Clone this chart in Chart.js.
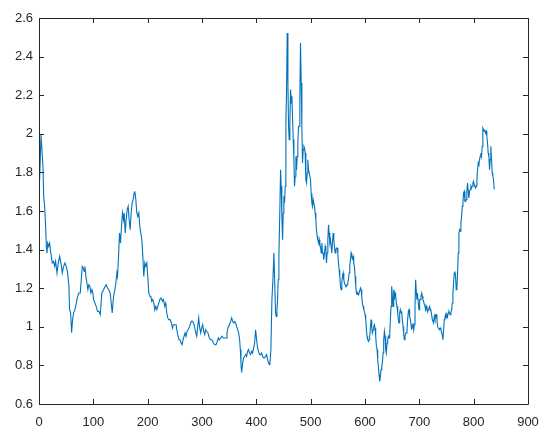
<!DOCTYPE html>
<html>
<head>
<meta charset="utf-8">
<script src="https://cdn.jsdelivr.net/npm/chart.js@4/dist/chart.umd.min.js"></script>
<style>
html,body{margin:0;padding:0;background:#fff;}
canvas{display:block;}
</style>
</head>
<body>
<canvas id="c" width="550" height="444"></canvas>
<script>
const xTicks = [0,100,200,300,400,500,600,700,800,900];
const yTicks = [0.6,0.8,1,1.2,1.4,1.6,1.8,2,2.2,2.4,2.6];

const xs = [
1.2,3.7,7.3,8.6,10.4,12.2,13.5,14.7,15.9,17.8,19.6,20.8,22.7,24.5,26.9,28.8,30.6,33.1,35.5,38.0,
40.4,42.9,45.3,47.8,50.2,52.7,55.1,56.3,58.2,60.0,61.8,63.7,66.1,68.6,71.0,73.5,75.9,77.8,79.6,81.4,
83.3,84.5,86.3,88.2,90.0,91.8,93.7,95.5,97.4,99.2,100.4,102.9,105.3,107.8,110.2,112.7,115.7,118.8,121.9,123.7,
126.1,128.6,131.0,132.9,134.7,137.2,139.6,141.5,143.3,144.5,146.4,148.2,150.0,151.9,153.7,155.5,156.8,158.6,160.4,162.3,
164.1,165.9,167.8,169.6,171.5,173.3,175.1,176.4,178.2,180.0,181.9,183.7,185.5,187.4,189.2,191.1,192.9,194.7,196.6,198.4,
200.2,202.1,203.9,205.8,207.6,209.4,211.3,213.1,214.9,216.8,218.6,220.5,222.3,224.7,227.2,229.0,231.5,233.3,235.1,237.0,
238.8,241.3,243.7,245.6,247.4,249.8,252.3,254.1,256.0,257.8,259.6,261.5,263.3,265.2,267.0,268.8,270.7,272.5,274.3,276.2,
278.0,280.5,282.9,285.4,287.8,290.3,292.1,293.9,295.8,297.6,299.4,301.3,303.1,305.0,306.8,308.6,311.1,313.5,316.0,318.4,
320.9,323.3,325.8,328.2,330.1,331.9,334.4,336.8,339.3,341.7,344.2,346.0,347.8,350.3,352.7,354.6,356.4,358.2,360.1,361.9,
363.7,365.6,367.4,369.3,370.5,371.7,372.9,374.8,376.6,378.4,380.3,382.1,384.0,385.8,387.6,389.5,391.3,393.1,395.0,396.8,
398.7,400.5,402.3,404.2,406.0,407.8,409.7,411.5,413.3,415.2,417.0,418.9,420.7,422.5,424.4,
425.0,426.8,428.7,430.5,432.3,434.2,435.4,436.6,437.9,439.1,440.3,441.5,443.4,444.6,445.8,447.0,448.3,449.5,450.7,451.9,
453.2,454.4,455.6,456.8,458.1,459.3,460.5,461.7,463.0,464.2,465.4,466.6,467.9,469.1,470.3,471.5,472.8,474.0,475.2,476.4,
477.7,478.9,480.1,481.3,482.6,483.8,485.0,486.2,487.5,488.7,489.9,491.1,492.4,493.6,494.8,496.0,497.3,498.5,499.7,500.9,
502.2,503.4,504.6,505.8,507.1,508.3,509.5,510.7,512.0,513.2,514.4,515.6,516.9,518.1,519.3,520.5,521.8,523.0,524.2,525.4,
526.7,527.9,529.1,530.3,531.6,532.8,534.0,535.2,536.5,537.7,538.9,540.1,541.4,542.6,543.8,545.0,546.3,547.5,548.7,549.9,
551.2,552.4,553.6,554.8,556.1,557.3,558.5,559.7,561.0,562.2,563.4,564.6,565.9,567.1,568.3,569.5,570.8,572.0,573.2,574.4,
575.7,576.9,578.1,579.3,580.5,581.8,583.0,584.2,585.4,586.7,587.9,589.1,590.3,591.6,592.8,594.0,595.2,596.5,597.7,598.9,
600.1,601.4,602.6,603.8,605.0,606.3,607.5,608.7,609.9,611.2,612.4,613.6,614.8,616.1,617.3,618.5,619.7,621.0,622.2,623.4,
624.6,625.9,627.1,628.3,629.5,630.8,632.0,633.2,634.4,635.7,636.9,638.1,639.3,640.6,641.8,643.0,644.2,645.5,646.7,647.9,
649.1,650.4,651.6,652.8,654.0,655.3,656.5,657.7,658.9,660.2,661.4,662.6,663.8,665.1,666.3,667.5,668.7,670.0,671.2,672.4,
673.6,674.9,676.1,677.3,678.5,679.8,681.0,682.2,683.4,684.7,685.9,687.1,688.3,689.6,690.8,692.0,693.2,694.5,695.7,696.9,
698.1,699.4,700.6,701.8,703.0,704.3,705.5,706.7,707.9,709.2,710.4,711.6,712.8,714.1,715.3,716.5,717.7,719.0,720.2,721.4,
722.6,723.9,725.1,726.3,727.5,728.8,730.0,731.2,732.4,733.6,734.9,736.1,737.3,738.5,739.8,741.0,742.2,743.4,744.7,745.9,
747.1,748.3,749.6,750.8,752.0,753.2,754.5,755.7,756.9,758.1,759.4,760.6,761.8,763.0,764.3,765.5,766.7,767.9,769.2,770.4,
771.6,772.8,774.1,775.3,776.5,777.7,779.0,780.2,781.4,782.6,783.9,785.1,786.3,787.5,788.8,790.0,791.2,792.4,793.7,794.9,
796.1,797.3,798.6,799.8,801.0,802.2,803.5,804.7,805.9,807.1,808.4,809.6,810.8,812.0,813.3,814.5,815.7,816.9,818.2,819.4,
820.6,821.8,823.1,824.3,825.5,826.7,828.0,829.2,830.4,831.6,832.9,834.1,835.3,836.5,837.8
];

const ys = [
1.762,1.995,1.831,1.676,1.624,1.521,1.417,1.382,1.434,1.417,1.434,1.400,1.365,1.331,1.339,1.313,1.339,1.279,1.331,1.365,
1.331,1.279,1.313,1.331,1.313,1.279,1.210,1.089,1.072,0.970,1.037,1.072,1.089,1.123,1.158,1.175,1.175,1.244,1.313,1.305,
1.287,1.313,1.261,1.227,1.192,1.218,1.210,1.175,1.192,1.175,1.141,1.123,1.106,1.080,1.080,1.063,1.175,1.192,1.210,1.218,
1.201,1.192,1.175,1.123,1.072,1.158,1.192,1.227,1.279,1.261,1.365,1.486,1.434,1.521,1.590,1.555,1.590,1.486,1.555,1.607,
1.624,1.555,1.503,1.590,1.641,1.659,1.693,1.702,1.659,1.590,1.572,1.590,1.521,1.486,1.451,1.365,1.261,1.331,1.313,1.331,
1.261,1.175,1.158,1.158,1.132,1.141,1.123,1.089,1.106,1.089,1.106,1.123,1.141,1.149,1.132,1.141,1.106,1.123,1.072,1.046,
1.037,1.037,1.020,0.994,1.011,1.011,1.011,0.977,0.951,0.933,0.933,0.916,0.907,0.933,0.951,0.968,0.951,0.977,0.985,0.994,
1.011,1.028,1.028,1.011,0.977,0.951,1.002,1.046,0.994,0.968,0.994,1.011,0.977,0.959,0.985,0.977,0.968,0.942,0.933,0.933,
0.916,0.907,0.907,0.925,0.942,0.933,0.942,0.951,0.942,0.942,0.942,0.968,0.994,1.011,1.028,1.046,1.028,1.020,1.028,1.020,
1.002,0.985,0.968,0.933,0.882,0.812,0.764,0.812,0.838,0.847,0.856,0.847,0.873,0.882,0.864,0.856,0.873,0.864,0.890,0.916,
0.985,0.933,0.890,0.873,0.856,0.856,0.864,0.847,0.838,0.838,0.847,0.856,0.830,0.812,0.804,
0.812,0.882,1.141,1.244,1.382,1.192,1.072,1.054,1.089,1.141,1.244,1.365,1.624,1.814,1.728,1.572,1.451,1.590,1.676,1.641,
1.728,2.073,2.211,2.522,2.263,2.039,1.970,2.056,2.229,2.160,2.194,2.090,1.970,1.866,1.728,1.780,1.883,1.814,1.883,1.952,
2.039,2.039,2.194,2.470,2.263,2.039,1.849,1.918,1.935,1.926,1.901,1.762,1.745,1.797,1.866,1.814,1.797,1.797,1.762,1.693,
1.641,1.624,1.659,1.659,1.624,1.590,1.555,1.503,1.469,1.451,1.434,1.451,1.417,1.417,1.382,1.434,1.382,1.382,1.348,1.382,
1.417,1.400,1.331,1.382,1.451,1.529,1.486,1.434,1.451,1.417,1.382,1.434,1.486,1.451,1.417,1.382,1.400,1.408,1.408,1.382,
1.331,1.296,1.261,1.210,1.192,1.227,1.261,1.279,1.244,1.227,1.218,1.210,1.210,1.218,1.227,1.244,1.279,1.313,1.348,1.382,
1.365,1.356,1.365,1.331,1.313,1.261,1.210,1.175,1.167,1.175,1.167,1.175,1.175,1.201,1.192,1.158,1.123,1.106,1.089,1.080,
1.063,1.037,0.985,0.951,0.933,0.925,0.933,0.951,0.994,1.037,0.994,0.968,0.985,1.002,1.011,0.994,0.951,0.899,0.882,0.830,
0.795,0.752,0.717,0.743,0.778,0.795,0.812,0.864,0.933,0.977,0.951,0.882,0.864,0.916,0.933,0.951,0.942,0.959,1.037,1.106,
1.210,1.158,1.106,1.192,1.141,1.175,1.158,1.123,1.106,1.072,1.037,1.020,1.072,1.089,1.072,1.080,1.037,1.002,0.968,0.933,
0.951,0.968,0.968,0.985,1.037,1.080,1.089,1.054,1.037,1.011,0.985,1.002,1.020,0.985,1.011,1.097,1.244,1.175,1.141,1.158,
1.123,1.089,1.141,1.141,1.158,1.175,1.158,1.141,1.132,1.115,1.106,1.089,1.106,1.089,1.080,1.089,1.097,1.106,1.089,1.080,
1.063,1.037,1.028,1.020,1.054,1.037,1.063,1.063,1.037,1.002,0.994,0.994,0.985,0.994,0.985,0.968,0.959,0.933,0.985,1.037,
1.046,1.063,1.046,1.063,1.054,1.072,1.080,1.072,1.063,1.072,1.089,1.123,1.175,1.227,1.279,1.287,1.261,1.192,1.210,1.279,
1.382,1.486,1.503,1.495,1.538,1.572,1.624,1.641,1.693,1.702,1.650,1.650,1.659,1.702,1.745,1.702,1.667,1.702,1.711,1.728,
1.719,1.728,1.745,1.754,1.736,1.728,1.719,1.728,1.754,1.814,1.849,1.840,1.866,1.883,1.901,1.883,1.935,2.030,2.021,2.013,
2.021,2.004,2.013,1.987,1.952,1.901,1.883,1.814,1.866,1.935,1.866,1.797,1.780,1.762,1.711
];

const points = xs.map((x, i) => ({x: x, y: ys[i]}));

const axisColor = '#262626';
const fontSpec = {family: "'Liberation Sans', Arial, Helvetica, sans-serif", size: 13};

const boxPlugin = {
  id: 'matlabBox',
  afterDraw(chart) {
    const {ctx, chartArea: a, scales} = chart;
    ctx.save();
    ctx.strokeStyle = axisColor;
    ctx.lineWidth = 1;
    ctx.beginPath();
    ctx.rect(Math.round(a.left) + 0.5, Math.round(a.top) + 0.5,
             Math.round(a.right) - Math.round(a.left), Math.round(a.bottom) - Math.round(a.top));
    ctx.stroke();
    const tl = 5;
    ctx.beginPath();
    xTicks.forEach(v => {
      const px = Math.round(scales.x.getPixelForValue(v)) + 0.5;
      ctx.moveTo(px, a.bottom); ctx.lineTo(px, a.bottom - tl);
      ctx.moveTo(px, a.top); ctx.lineTo(px, a.top + tl);
    });
    yTicks.forEach(v => {
      const py = Math.round(scales.y.getPixelForValue(v)) + 0.5;
      ctx.moveTo(a.left, py); ctx.lineTo(a.left + tl, py);
      ctx.moveTo(a.right, py); ctx.lineTo(a.right - tl, py);
    });
    ctx.stroke();
    ctx.restore();
  }
};

new Chart(document.getElementById('c'), {
  type: 'line',
  data: {
    datasets: [{
      data: points,
      borderColor: '#0072BD',
      borderWidth: 1.1,
      pointRadius: 0,
      tension: 0,
      fill: false
    }]
  },
  options: {
    responsive: false,
    animation: false,
    events: [],
    layout: {padding: {left: 0, top: 18, right: 22, bottom: 0}},
    plugins: {legend: {display: false}, tooltip: {enabled: false}},
    scales: {
      x: {
        type: 'linear',
        min: 0, max: 900,
        afterBuildTicks: s => { s.ticks = xTicks.map(v => ({value: v})); },
        afterFit: s => { s.height = 40; },
        grid: {display: false, drawTicks: false},
        border: {display: false},
        ticks: {color: axisColor, font: fontSpec, padding: 11, maxRotation: 0, autoSkip: false,
                callback: v => String(v)}
      },
      y: {
        type: 'linear',
        min: 0.6, max: 2.6,
        afterBuildTicks: s => { s.ticks = yTicks.map(v => ({value: v})); },
        afterFit: s => { s.width = 39; },
        grid: {display: false, drawTicks: false},
        border: {display: false},
        ticks: {color: axisColor, font: fontSpec, padding: 6, autoSkip: false,
                callback: v => String(Math.round(v * 10) / 10)}
      }
    }
  },
  plugins: [boxPlugin]
});
</script>
</body>
</html>
